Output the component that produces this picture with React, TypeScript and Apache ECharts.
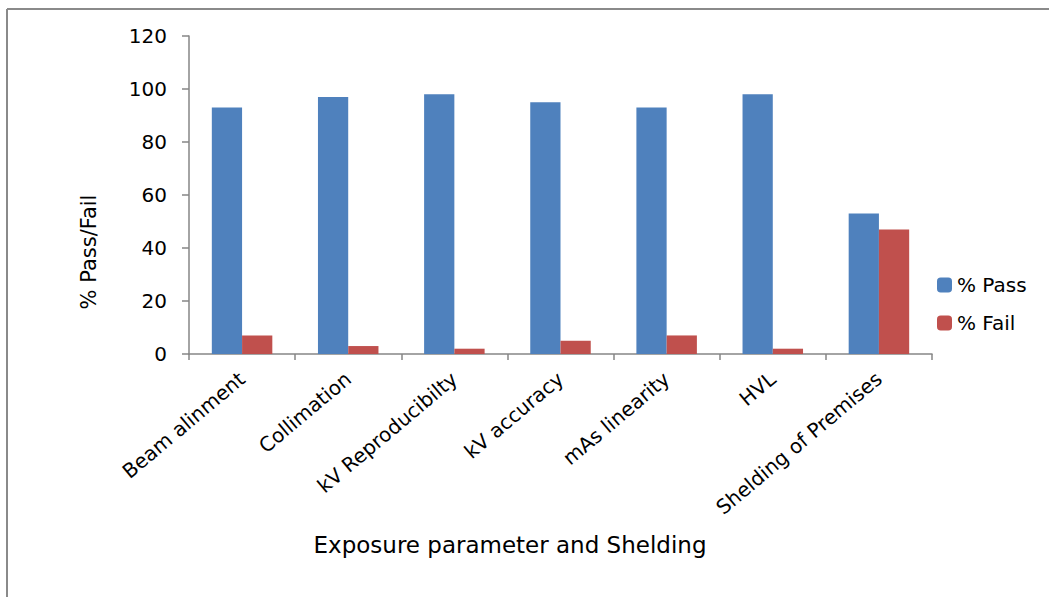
import React, { useEffect, useRef } from "react";
import * as echarts from "echarts";

const categories = [
  "Beam alinment",
  "Collimation",
  "kV Reproducibilty",
  "kV accuracy",
  "mAs linearity",
  "HVL",
  "Shelding of Premises",
];
const passValues = [93, 97, 98, 95, 93, 98, 53];
const failValues = [7, 3, 2, 5, 7, 2, 47];
const seriesNames = ["% Pass", "% Fail"];
const yTicks = { min: 0, max: 120, interval: 20 };
const yAxisTitle = "% Pass/Fail";
const xAxisTitle = "Exposure parameter and Shelding";

const FONT = "DejaVu Sans";

export default function App() {
  const ref = useRef<HTMLDivElement>(null);
  useEffect(() => {
    if (!ref.current) return;
    const chart = echarts.init(ref.current, undefined, { renderer: "svg" });
    chart.setOption({
      animation: false,
      backgroundColor: "#ffffff",
      textStyle: { fontFamily: FONT },
      grid: { left: 189, top: 36, right: 117, bottom: 243, containLabel: false },
      legend: {
        orient: "vertical",
        left: 932,
        top: 270,
        itemWidth: 15,
        itemHeight: 15,
        itemGap: 18,
        textStyle: { fontFamily: FONT, fontSize: 20, color: "#000" },
        data: seriesNames,
      },
      xAxis: {
        type: "category",
        data: categories,
        axisLine: { show: true, lineStyle: { color: "#868686", width: 1.5 } },
        axisTick: { show: true, length: 6, lineStyle: { color: "#868686", width: 1.5 } },
        axisLabel: {
          interval: 0,
          rotate: 40,
          margin: 22,
          fontFamily: FONT,
          fontSize: 20,
          color: "#000",
        },
      },
      yAxis: {
        type: "value",
        min: yTicks.min,
        max: yTicks.max,
        interval: yTicks.interval,
        axisLine: { show: true, lineStyle: { color: "#868686", width: 1.5 } },
        axisTick: { show: true, length: 7, inside: false, lineStyle: { color: "#868686", width: 1.5 } },
        splitLine: { show: false },
        axisLabel: { margin: 22, fontFamily: FONT, fontSize: 20, color: "#000" },
      },
      series: [
        {
          name: seriesNames[0],
          type: "bar",
          data: passValues,
          itemStyle: { color: "#4F81BD" },
          barGap: "0%",
          barCategoryGap: "43%",
        },
        {
          name: seriesNames[1],
          type: "bar",
          data: failValues,
          itemStyle: { color: "#C0504D" },
          barGap: "0%",
          barCategoryGap: "43%",
        },
      ],
      graphic: [
        {
          type: "line",
          shape: { x1: 7, y1: 9, x2: 1049, y2: 9 },
          style: { stroke: "#8a8a8a", lineWidth: 2 },
        },
        {
          type: "line",
          shape: { x1: 7, y1: 9, x2: 7, y2: 597 },
          style: { stroke: "#8a8a8a", lineWidth: 2 },
        },
        {
          type: "text",
          x: 510,
          y: 545,
          style: {
            text: xAxisTitle,
            fontFamily: FONT,
            fontSize: 23,
            fill: "#000",
            align: "center",
            verticalAlign: "middle",
          },
        },
        {
          type: "text",
          x: 89,
          y: 252,
          rotation: Math.PI / 2,
          style: {
            text: yAxisTitle,
            fontFamily: FONT,
            fontSize: 21,
            fill: "#000",
            align: "center",
            verticalAlign: "middle",
          },
        },
      ],
    });
    return () => chart.dispose();
  }, []);
  return (
    <div
      ref={ref}
      style={{ position: "fixed", left: 0, top: 0, width: 1049, height: 597 }}
    />
  );
}
